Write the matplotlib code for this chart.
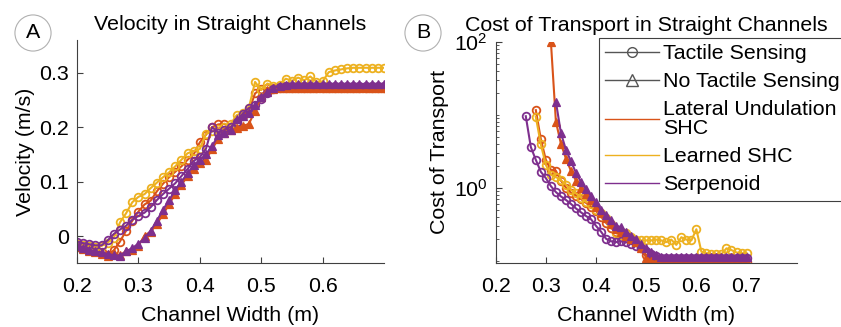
import numpy as np
import matplotlib
matplotlib.use("Agg")
import matplotlib.pyplot as plt
from matplotlib.lines import Line2D
from matplotlib.ticker import FixedLocator, NullFormatter

plt.rcParams['font.family'] = ['Liberation Sans', 'DejaVu Sans']
plt.rcParams['mathtext.default'] = 'regular'

nan = np.nan

widths = [0.20, 0.21, 0.22, 0.23, 0.24, 0.25, 0.26, 0.27, 0.28, 0.29,
          0.30, 0.31, 0.32, 0.33, 0.34, 0.35, 0.36, 0.37, 0.38, 0.39,
          0.40, 0.41, 0.42, 0.43, 0.44, 0.45, 0.46, 0.47, 0.48, 0.49,
          0.50, 0.51, 0.52, 0.53, 0.54, 0.55, 0.56, 0.57, 0.58, 0.59,
          0.60, 0.61, 0.62, 0.63, 0.64, 0.65, 0.66, 0.67, 0.68, 0.69,
          0.70]

# Velocity (m/s)
vel_lu_tactile = [-0.020, -0.022, -0.024, -0.027, -0.030, -0.035, -0.026, -0.010, 0.010, 0.028,
                  0.045, 0.058, 0.065, 0.082, 0.096, 0.108, 0.118, 0.128, 0.140, 0.150,
                  0.172, 0.186, 0.200, 0.205, 0.206, 0.200, 0.207, 0.220, 0.230, 0.262,
                  0.270, 0.272, 0.271, 0.271, 0.271, 0.271, 0.271, 0.271, 0.271, 0.271,
                  0.271, 0.271, 0.271, 0.271, 0.271, 0.271, 0.271, 0.271, 0.271, 0.271,
                  0.271]
vel_learned_tactile = [-0.015, -0.017, -0.019, -0.020, -0.018, -0.012, -0.003, 0.025, 0.042, 0.062,
                       0.072, 0.077, 0.088, 0.098, 0.108, 0.117, 0.128, 0.140, 0.152, 0.156,
                       0.160, 0.188, 0.192, 0.196, 0.200, 0.205, 0.222, 0.226, 0.236, 0.283,
                       0.268, 0.280, 0.276, 0.278, 0.289, 0.285, 0.291, 0.286, 0.293, 0.283,
                       0.284, 0.301, 0.304, 0.306, 0.308, 0.309, 0.309, 0.309, 0.309, 0.309,
                       0.309]
vel_serp_tactile = [-0.010, -0.013, -0.015, -0.017, -0.017, -0.008, 0.004, 0.012, 0.019, 0.030,
                    0.037, 0.043, 0.053, 0.066, 0.077, 0.087, 0.097, 0.110, 0.123, 0.138,
                    0.145, 0.160, 0.200, 0.190, 0.195, 0.200, 0.210, 0.225, 0.235, 0.240,
                    0.252, 0.262, 0.270, 0.273, 0.275, 0.276, 0.276, 0.276, 0.276, 0.276,
                    0.276, 0.276, 0.276, 0.276, 0.276, 0.276, 0.276, 0.276, 0.276, 0.276,
                    0.276]
vel_lu_none = [-0.020, -0.024, -0.027, -0.030, -0.033, -0.036, -0.032, -0.035, -0.028, -0.025,
               -0.018, 0.001, 0.008, 0.022, 0.040, 0.058, 0.078, 0.094, 0.110, 0.124,
               0.134, 0.140, 0.160, 0.178, 0.190, 0.195, 0.198, 0.202, 0.206, 0.230,
               0.255, 0.268, 0.270, 0.271, 0.271, 0.271, 0.271, 0.271, 0.271, 0.271,
               0.271, 0.271, 0.271, 0.271, 0.271, 0.271, 0.271, 0.271, 0.271, 0.271,
               0.271]
vel_serp_none = [-0.018, -0.022, -0.025, -0.028, -0.030, -0.033, -0.035, -0.036, -0.028, -0.022,
                 -0.014, -0.004, 0.010, 0.028, 0.048, 0.066, 0.084, 0.100, 0.115, 0.130,
                 0.140, 0.150, 0.165, 0.185, 0.190, 0.195, 0.215, 0.220, 0.226, 0.240,
                 0.255, 0.265, 0.272, 0.276, 0.278, 0.279, 0.279, 0.279, 0.279, 0.279,
                 0.279, 0.279, 0.279, 0.279, 0.279, 0.279, 0.279, 0.279, 0.279, 0.279,
                 0.279]

# Cost of transport
cot_lu_tactile = [nan, nan, nan, nan, nan, nan, nan, nan, 11.5, 4.6,
                  2.4, 1.75, 1.7, 1.25, 1.0, 0.85, 0.78, 0.70, 0.62, 0.55,
                  0.48, 0.40, 0.33, 0.28, 0.25, 0.24, 0.22, 0.20, 0.18, 0.15,
                  0.12, 0.10, 0.098, 0.097, 0.097, 0.097, 0.097, 0.097, 0.097, 0.097,
                  0.097, 0.097, 0.097, 0.097, 0.097, 0.097, 0.097, 0.097, 0.097, 0.097,
                  0.097]
cot_learned_tactile = [nan, nan, nan, nan, nan, nan, nan, nan, 9.3, 3.9,
                       2.05, 1.5, 1.4, 1.27, 1.1, 0.93, 0.84, 0.73, 0.64, 0.60,
                       0.50, 0.45, 0.38, 0.32, 0.24, 0.225, 0.24, 0.21, 0.195, 0.19,
                       0.19, 0.19, 0.195, 0.19, 0.18, 0.195, 0.165, 0.21, 0.195, 0.19,
                       0.27, 0.133, 0.127, 0.123, 0.123, 0.123, 0.148, 0.14, 0.13, 0.127,
                       0.127]
cot_serp_tactile = [nan, nan, nan, nan, nan, nan, 9.5, 3.6, 2.4, 1.65,
                    1.35, 1.05, 0.87, 0.76, 0.68, 0.60, 0.52, 0.46, 0.41, 0.37,
                    0.30, 0.25, 0.20, 0.185, 0.18, 0.185, 0.18, 0.17, 0.16, 0.15,
                    0.135, 0.125, 0.115, 0.11, 0.108, 0.108, 0.108, 0.108, 0.108, 0.108,
                    0.108, 0.108, 0.108, 0.108, 0.108, 0.108, 0.108, 0.108, 0.108, 0.108,
                    0.108]
cot_lu_none = [nan, nan, nan, nan, nan, nan, nan, nan, nan, nan,
               nan, 100.0, 8.0, 4.0, 2.5, 1.7, 1.25, 1.0, 0.82, 0.68,
               0.55, 0.45, 0.38, 0.32, 0.27, 0.25, 0.22, 0.20, 0.18, 0.15,
               0.11, 0.10, 0.096, 0.096, 0.096, 0.096, 0.096, 0.096, 0.096, 0.096,
               0.096, 0.096, 0.096, 0.096, 0.096, 0.096, 0.096, 0.096, 0.096, 0.096,
               0.096]
cot_serp_none = [nan, nan, nan, nan, nan, nan, nan, nan, nan, nan,
                 nan, nan, 15.0, 5.6, 3.3, 2.3, 1.6, 1.2, 0.95, 0.78,
                 0.63, 0.50, 0.42, 0.36, 0.30, 0.29, 0.25, 0.22, 0.20, 0.17,
                 0.15, 0.13, 0.12, 0.114, 0.114, 0.114, 0.114, 0.114, 0.114, 0.114,
                 0.114, 0.114, 0.114, 0.114, 0.114, 0.114, 0.114, 0.114, 0.114, 0.114,
                 0.114]

legend_labels = ['Tactile Sensing', 'No Tactile Sensing', 'Lateral Undulation\nSHC',
                 'Learned SHC', 'Serpenoid']

C_LU = '#D95319'
C_LEARN = '#EDB120'
C_SERP = '#7E2F8E'
AX_COL = '#404040'
FS = 15.4

W, H = 841, 327
fig = plt.figure(figsize=(W / 100, H / 100), dpi=100)

ax1 = fig.add_axes([77 / W, 1 - 263.3 / H, (384 - 77) / W, (263.3 - 40) / H])
ax2 = fig.add_axes([495.7 / W, 1 - 263.3 / H, (796.7 - 495.7) / W, (263.3 - 41.5) / H])

circ = dict(marker='o', markersize=5.5, markerfacecolor='none', markeredgewidth=1.3, lw=1.5)
tri = dict(marker='^', markersize=6.0, markeredgewidth=0.9, lw=1.5)

def draw(ax, a, b, c, d, e):
    ax.plot(widths, a, color=C_LU, mec=C_LU, **circ)
    ax.plot(widths, b, color=C_LEARN, mec=C_LEARN, **circ)
    ax.plot(widths, c, color=C_SERP, mec=C_SERP, **circ)
    ax.plot(widths, d, color=C_LU, mec=C_LU, mfc=C_LU, **tri)
    ax.plot(widths, e, color=C_SERP, mec=C_SERP, mfc=C_SERP, **tri)

draw(ax1, vel_lu_tactile, vel_learned_tactile, vel_serp_tactile, vel_lu_none, vel_serp_none)
draw(ax2, cot_lu_tactile, cot_learned_tactile, cot_serp_tactile, cot_lu_none, cot_serp_none)

for ax in (ax1, ax2):
    for s in ('top', 'right'):
        ax.spines[s].set_visible(False)
    for s in ('left', 'bottom'):
        ax.spines[s].set_color(AX_COL)
        ax.spines[s].set_linewidth(0.8)
    ax.tick_params(direction='in', colors=AX_COL, labelcolor='black', labelsize=FS,
                   length=4, width=0.8)
    ax.tick_params(axis='x', pad=10)
    ax.tick_params(axis='y', pad=6)
    ax.set_xlabel('Channel Width (m)', fontsize=FS, labelpad=7)

ax1.set_xlim(0.2, 0.7)
ax1.set_ylim(-0.05, 0.36)
ax1.set_xticks([0.2, 0.3, 0.4, 0.5, 0.6])
ax1.set_xticklabels(['0.2', '0.3', '0.4', '0.5', '0.6'])
ax1.set_yticks([0, 0.1, 0.2, 0.3])
ax1.set_yticklabels(['0', '0.1', '0.2', '0.3'])
ax1.set_ylabel('Velocity (m/s)', fontsize=FS, labelpad=3)
ax1.set_title('Velocity in Straight Channels', fontsize=FS, pad=7)

ax2.set_yscale('log')
ax2.set_xlim(0.2, 0.8)
ax2.set_ylim(0.0924, 100)
ax2.set_xticks([0.2, 0.3, 0.4, 0.5, 0.6, 0.7])
ax2.set_xticklabels(['0.2', '0.3', '0.4', '0.5', '0.6', '0.7'])
ax2.yaxis.set_major_locator(FixedLocator([1, 100]))
ax2.set_yticklabels(['$10^0$', '$10^2$'])
minors = [m * 10.0 ** k for k in (-2, -1, 0, 1) for m in range(1, 10)]
ax2.yaxis.set_minor_locator(FixedLocator([v for v in minors if abs(v - 1.0) > 1e-9]))
ax2.yaxis.set_minor_formatter(NullFormatter())
ax2.tick_params(axis='y', which='minor', direction='in', length=2.5, width=0.6, colors=AX_COL)
ax2.set_ylabel('Cost of Transport', fontsize=FS, labelpad=3)
ax2.set_title('Cost of Transport in Straight Channels', fontsize=FS, pad=7.5)

handles = [
    Line2D([], [], color='#555555', lw=1.0, marker='o', mfc='none', mec='#555555', markersize=7),
    Line2D([], [], color='#555555', lw=1.0, marker='^', mfc='none', mec='#555555', markersize=8),
    Line2D([], [], color=C_LU, lw=1.0),
    Line2D([], [], color=C_LEARN, lw=1.0),
    Line2D([], [], color=C_SERP, lw=1.0),
]
leg = fig.legend(handles, legend_labels, loc='upper left',
                 bbox_to_anchor=(599 / W, 1 - 38 / H), bbox_transform=fig.transFigure,
                 fontsize=FS, frameon=True, fancybox=False, framealpha=1,
                 edgecolor=AX_COL, borderpad=0.3, labelspacing=0.42,
                 handlelength=2.5, handletextpad=0.2, borderaxespad=0)
leg.get_frame().set_linewidth(0.8)
leg.get_texts()[2].set_linespacing(1.0)

for lab, cx in (('A', 33), ('B', 423)):
    fig.text(cx / W, 1 - 33 / H, lab, fontsize=FS, ha='center', va='center',
             bbox=dict(boxstyle='circle,pad=0.4', fc='white', ec='#b0b0b0', lw=0.8))

fig.savefig('out.png', dpi=100)
